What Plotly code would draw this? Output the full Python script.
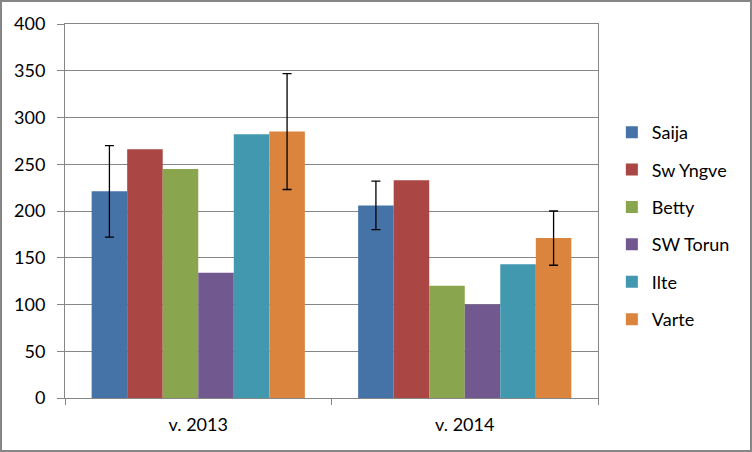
import plotly.graph_objects as go

categories = ["v. 2013", "v. 2014"]
series_names = ["Saija", "Sw Yngve", "Betty", "SW Torun", "Ilte", "Varte"]
saija = [221, 206]
sw_yngve = [266, 233]
betty = [245, 120]
sw_torun = [134, 100]
ilte = [282, 143]
varte = [285, 171]
values = [saija, sw_yngve, betty, sw_torun, ilte, varte]
saija_err = [49, 26]
varte_err = [62, 29]
errors = [saija_err, None, None, None, None, varte_err]
colors = ["#4572A7", "#AA4643", "#89A54E", "#71588F", "#4198AF", "#DB843D"]
y_ticks = [0, 50, 100, 150, 200, 250, 300, 350, 400]

FONT = "Lato"
FS = 18
fig = go.Figure()
for i, (name, vals, err, col) in enumerate(zip(series_names, values, errors, colors)):
    kw = {}
    if err is not None:
        kw["error_y"] = dict(type="data", array=err, visible=True, color="black",
                             thickness=1.3, width=4.5)
    fig.add_trace(go.Bar(x=categories, y=vals, name=name, marker_color=col,
                         marker_line_width=0, legendgroup=name, **kw))

W, H = 752, 452
ml, mr, mt, mb = 65, 154, 24, 54
pw, ph = W - ml - mr, H - mt - mb

fig.update_layout(
    width=W, height=H,
    margin=dict(l=ml, r=mr, t=mt, b=mb, pad=0),
    paper_bgcolor="white", plot_bgcolor="white",
    barmode="group", bargap=0.2, bargroupgap=0,
    font=dict(family=FONT, size=FS, color="black"),
    showlegend=True,
    legend=dict(x=1.026, xanchor="left", y=0.46, yanchor="middle",
                font=dict(family=FONT, size=FS, color="black"),
                tracegroupgap=11, itemwidth=30,
                bgcolor="rgba(0,0,0,0)"),
    xaxis=dict(showline=True, linecolor="#868686", linewidth=1, mirror=True,
               ticks="outside", ticklen=6, tickcolor="#868686", tickson="boundaries",
               showgrid=False, tickfont=dict(family=FONT, size=FS),
               ticklabelstandoff=10),
    yaxis=dict(range=[0, 400], tickvals=y_ticks, showline=True, linecolor="#868686",
               linewidth=1, mirror=True, ticks="outside", ticklen=7, tickcolor="#868686",
               showgrid=True, gridcolor="#868686", gridwidth=1, zeroline=False,
               tickfont=dict(family=FONT, size=FS), ticklabelstandoff=8),
    shapes=[dict(type="rect", xref="paper", yref="paper",
                 x0=(-ml + 1) / pw, x1=(W - ml - 1) / pw,
                 y0=(-mb + 1) / ph, y1=(H - mb - 1) / ph,
                 line=dict(color="#868686", width=2), fillcolor="rgba(0,0,0,0)")],
)

fig.write_html("out.html")
